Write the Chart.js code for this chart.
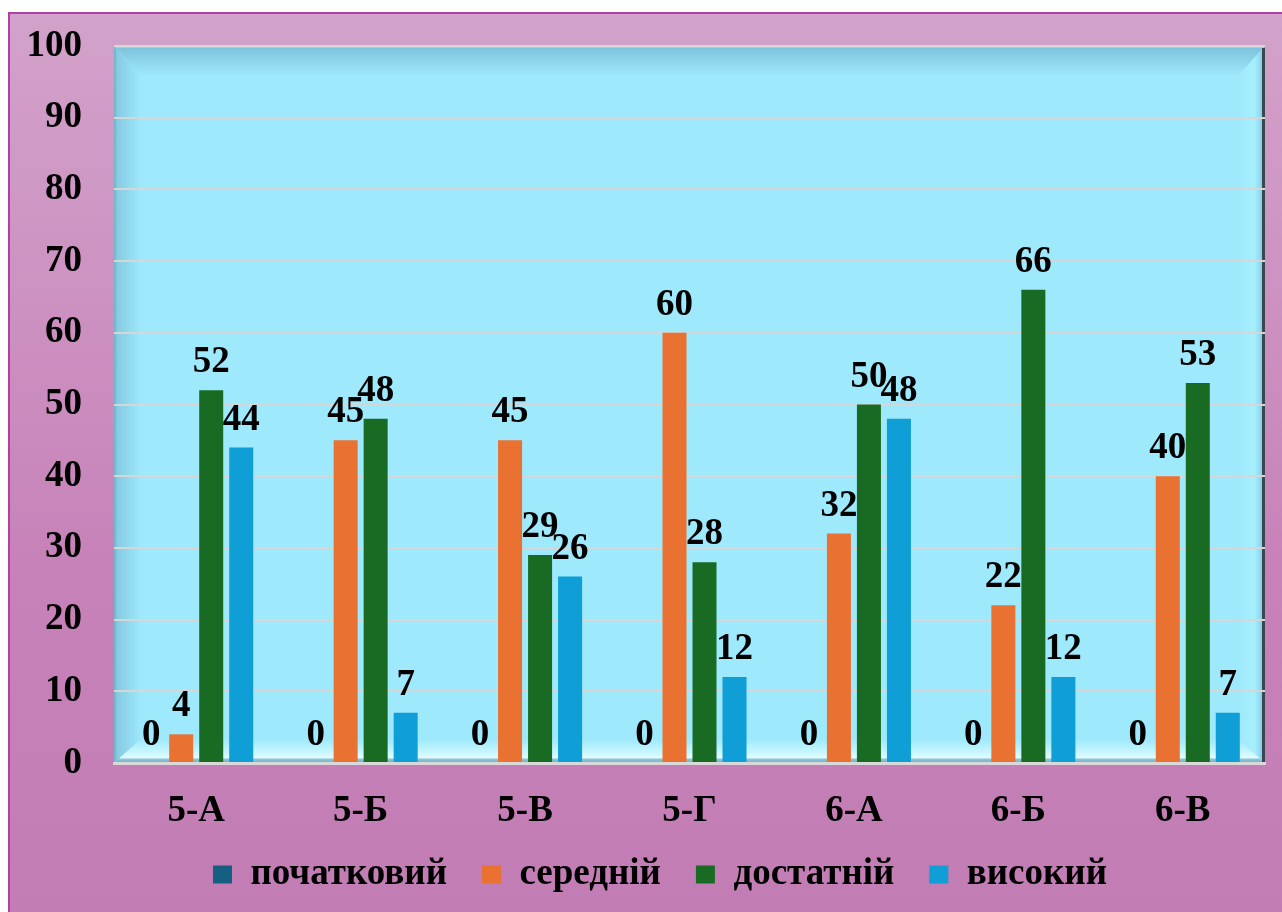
<!DOCTYPE html>
<html>
<head>
<meta charset="utf-8">
<script src="https://cdn.jsdelivr.net/npm/chart.js@4.4.1/dist/chart.umd.min.js"></script>
<style>
  html, body { margin: 0; padding: 0; background: #ffffff; width: 1282px; height: 912px; overflow: hidden; }
  #frame {
    position: absolute; left: 8px; top: 12px; width: 1274px; height: 900px;
    border-left: 2px solid #b23ea6; border-top: 2px solid #b23ea6; box-sizing: border-box;
    background: linear-gradient(to bottom, #d2a2ca 0%, #c783b9 60%, #c27db4 100%);
  }
  #c { position: absolute; left: 0; top: 0; }
</style>
</head>
<body>
<div id="frame"></div>
<canvas id="c" width="1282" height="912"></canvas>
<script>
// ---- data ----
const categories = ['5-А', '5-Б', '5-В', '5-Г', '6-А', '6-Б', '6-В'];
const seriesNames = ['початковий', 'середній', 'достатній', 'високий'];
const initialValues = [0, 0, 0, 0, 0, 0, 0];
const mediumValues = [4, 45, 45, 60, 32, 22, 40];
const sufficientValues = [52, 48, 29, 28, 50, 66, 53];
const highValues = [44, 7, 26, 12, 48, 12, 7];
const yTicks = [0, 10, 20, 30, 40, 50, 60, 70, 80, 90, 100];

const colors = ['#156082', '#E97132', '#196B24', '#0F9ED5'];
const FONT = "'Liberation Serif', 'Times New Roman', serif";
const FS = 37;
const PAD_BOTTOM = 9;
const PLOT_BOTTOM = 763;

const plotBg = {
  id: 'plotBg',
  beforeDraw(chart) {
    const {ctx, chartArea: a} = chart;
    const L = a.left, R = a.right, T = a.top, B = a.bottom;
    const bw = 27, bt = 30, bb = 24;
    ctx.save();
    ctx.fillStyle = '#9ee9fc';
    ctx.fillRect(L, T, R - L, B - T);
    let g = ctx.createLinearGradient(0, T, 0, T + bt);
    g.addColorStop(0, '#b8f2ff'); g.addColorStop(0.08, '#7ec4dc'); g.addColorStop(1, '#9ee9fc');
    ctx.fillStyle = g;
    ctx.beginPath(); ctx.moveTo(L, T); ctx.lineTo(R, T); ctx.lineTo(R - bw, T + bt); ctx.lineTo(L + bw, T + bt); ctx.closePath(); ctx.fill();
    g = ctx.createLinearGradient(L, 0, L + bw, 0);
    g.addColorStop(0, '#6fb0c6'); g.addColorStop(0.12, '#86cbe2'); g.addColorStop(1, '#9ee9fc');
    ctx.fillStyle = g;
    ctx.beginPath(); ctx.moveTo(L, T); ctx.lineTo(L + bw, T + bt); ctx.lineTo(L + bw, B - bb); ctx.lineTo(L, B); ctx.closePath(); ctx.fill();
    g = ctx.createLinearGradient(R - bw, 0, R, 0);
    g.addColorStop(0, '#9ee9fc'); g.addColorStop(0.6, '#a6effe'); g.addColorStop(0.85, '#8fd6ec'); g.addColorStop(1, '#6aa8bc');
    ctx.fillStyle = g;
    ctx.beginPath(); ctx.moveTo(R, T); ctx.lineTo(R, B); ctx.lineTo(R - bw, B - bb); ctx.lineTo(R - bw, T + bt); ctx.closePath(); ctx.fill();
    g = ctx.createLinearGradient(0, B - bb, 0, B);
    g.addColorStop(0, '#9ee9fc'); g.addColorStop(0.55, '#c8f6ff'); g.addColorStop(0.78, '#e2fbff'); g.addColorStop(0.84, '#8cc6d8'); g.addColorStop(1, '#76aec2');
    ctx.fillStyle = g;
    ctx.beginPath(); ctx.moveTo(L, B); ctx.lineTo(R, B); ctx.lineTo(R - bw, B - bb); ctx.lineTo(L + bw, B - bb); ctx.closePath(); ctx.fill();
    ctx.fillStyle = '#3a4650';
    ctx.fillRect(R - 3, T + 2, 3, B - T - 2);
    ctx.restore();
  }
};

const valueLabels = {
  id: 'valueLabels',
  afterDatasetsDraw(chart) {
    const {ctx} = chart;
    ctx.save();
    ctx.font = "bold " + FS + "px " + FONT;
    ctx.fillStyle = '#000000';
    ctx.textAlign = 'center';
    ctx.textBaseline = 'alphabetic';
    chart.data.datasets.forEach((ds, i) => {
      const meta = chart.getDatasetMeta(i);
      meta.data.forEach((el, j) => {
        ctx.fillText(String(ds.data[j]), el.x, el.y - 18);
      });
    });
    ctx.restore();
  }
};

// shift the legend row so that it starts where the reference legend starts
const legendShift = {
  id: 'legendShift',
  afterLayout(chart) {
    const lg = chart.legend;
    if (!lg || !lg.lineWidths) return;
    const x0 = (lg.left + lg.options.labels.padding + lg.right - lg.lineWidths[0]) / 2;
    const d = 213 - x0;
    lg.left += d; lg.right += d;
  }
};

const allSeries = [initialValues, mediumValues, sufficientValues, highValues];

new Chart(document.getElementById('c'), {
  type: 'bar',
  data: {
    labels: categories,
    datasets: allSeries.map((vals, i) => ({
      label: seriesNames[i],
      data: vals,
      backgroundColor: colors[i],
      borderWidth: 0,
      categoryPercentage: 0.73,
      barPercentage: 0.8
    }))
  },
  options: {
    responsive: false,
    animation: false,
    devicePixelRatio: 1,
    layout: { padding: { top: 46, right: 17, left: 0, bottom: PAD_BOTTOM } },
    plugins: {
      tooltip: { enabled: false },
      legend: {
        position: 'bottom',
        labels: {
          boxWidth: 19, boxHeight: 18,
          padding: 35,
          color: '#000000',
          font: { family: FONT, size: FS, weight: 'bold' }
        }
      }
    },
    scales: {
      x: {
        grid: { display: false, drawTicks: false },
        border: { display: true, color: '#d9d9d9', width: 3 },
        ticks: { color: '#000000', padding: 26, font: { family: FONT, size: FS, weight: 'bold' } },
        afterFit(scale) {
          const lg = scale.chart.legend;
          const lh = lg ? lg.height : 0;
          scale.height = 912 - PAD_BOTTOM - lh - PLOT_BOTTOM;
        }
      },
      y: {
        min: 0, max: 100,
        afterBuildTicks(scale) { scale.ticks = yTicks.map(v => ({ value: v })); },
        grid: { color: '#d6d6d6', lineWidth: 2, drawTicks: false },
        border: { display: false },
        ticks: { color: '#000000', padding: 32, font: { family: FONT, size: FS, weight: 'bold' } },
        afterFit(scale) { scale.width = 114; scale.paddingTop = 0; scale.paddingBottom = 0; }
      }
    }
  },
  plugins: [plotBg, valueLabels, legendShift]
});
</script>
</body>
</html>
